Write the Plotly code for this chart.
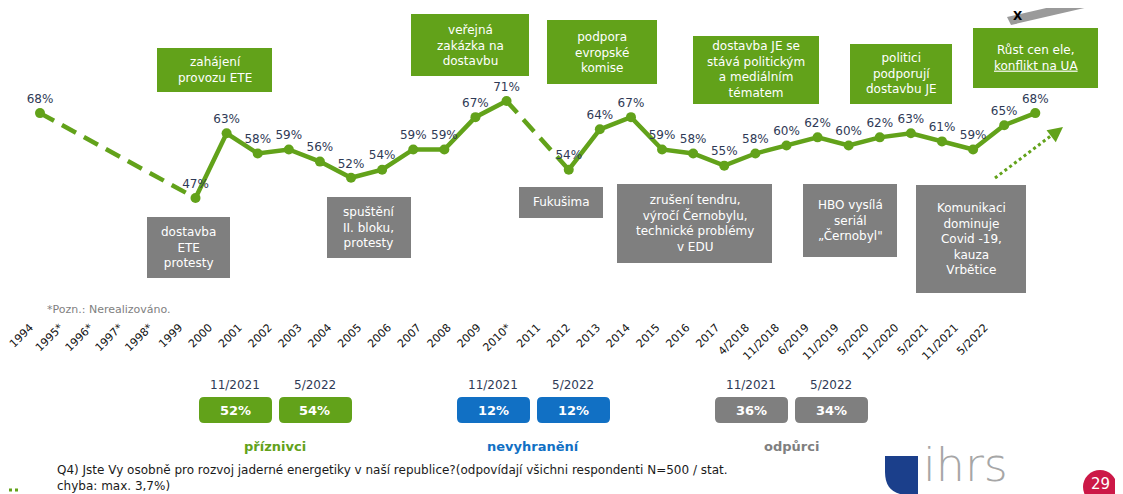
import plotly.graph_objects as go

# the page body adds an 8px margin, so the figure sits at (8, 8) in the window
OX, OY = 8, 8
W, H = 1115, 486

GREEN = "#62A21A"
GREY = "#7F7F7F"
BLUE = "#1170C4"
NAVY = "#2F3A56"
FONT = "DejaVu Sans"

# survey waves (asterisk = not carried out)
labels = ["1994", "1995*", "1996*", "1997*", "1998*", "1999", "2000", "2001", "2002",
          "2003", "2004", "2005", "2006", "2007", "2008", "2009", "2010*", "2011",
          "2012", "2013", "2014", "2015", "2016", "2017", "4/2018", "11/2018",
          "6/2019", "11/2019", "5/2020", "11/2020", "5/2021", "11/2021", "5/2022"]
values = [68, None, None, None, None, 47, 63, 58, 59, 56, 52, 54, 59, 59, 67, 71, None,
          54, 64, 67, 59, 58, 55, 58, 60, 62, 60, 62, 63, 61, 59, 65, 68]

# summary boxes
groups = ["příznivci", "nevyhranění", "odpůrci"]
wave_names = ["11/2021", "5/2022"]
wave_nov21 = [52, 12, 36]
wave_may22 = [54, 12, 34]
group_colors = [GREEN, BLUE, GREY]


def px(x):
    return (x - OX) / W


def py(y):
    return 1 - (y - OY) / H


fig = go.Figure()

# dashed bridges over the missing waves
known = [i for i, v in enumerate(values) if v is not None]
for a, b in zip(known[:-1], known[1:]):
    if b - a > 1:
        fig.add_trace(go.Scatter(
            x=[labels[a], labels[b]], y=[values[a], values[b]],
            mode="lines", line=dict(color=GREEN, width=4.5, dash="16px,9px"),
            hoverinfo="skip", showlegend=False,
        ))

fig.add_trace(go.Scatter(
    x=labels, y=values, mode="lines+markers+text",
    line=dict(color=GREEN, width=4.5), marker=dict(color=GREEN, size=10),
    text=[f"{v}%" if v is not None else "" for v in values],
    textposition="top center",
    textfont=dict(family=FONT, size=12, color=NAVY),
    connectgaps=False, showlegend=False,
))

# carrier for the rotated tick labels (separate axis, slightly different spacing)
fig.add_trace(go.Scatter(
    x=labels, y=values, xaxis="x2", mode="markers",
    marker=dict(opacity=0), hoverinfo="skip", showlegend=False,
))

shapes = []
annotations = []


def box(x0, y0, x1, y1, text, fill, size=12):
    shapes.append(dict(type="rect", xref="paper", yref="paper",
                       x0=px(x0), x1=px(x1), y0=py(y1), y1=py(y0),
                       fillcolor=fill, line=dict(width=0), layer="below"))
    annotations.append(dict(xref="paper", yref="paper", x=px((x0 + x1) / 2),
                            y=py((y0 + y1) / 2), text=text, showarrow=False,
                            font=dict(family=FONT, size=size, color="white"),
                            xanchor="center", yanchor="middle"))


def rbox(x0, y0, x1, y1, fill, r=5):
    rx, ry = r / W, r / H
    a, b, c, d = px(x0), px(x1), py(y1), py(y0)
    path = (f"M {a + rx},{c} L {b - rx},{c} Q {b},{c} {b},{c + ry} "
            f"L {b},{d - ry} Q {b},{d} {b - rx},{d} L {a + rx},{d} "
            f"Q {a},{d} {a},{d - ry} L {a},{c + ry} Q {a},{c} {a + rx},{c} Z")
    shapes.append(dict(type="path", xref="paper", yref="paper", path=path,
                       fillcolor=fill, line=dict(width=0)))


def text(x, y, t, size=12, color=NAVY, anchor="center", bold=False):
    annotations.append(dict(xref="paper", yref="paper", x=px(x), y=py(y),
                            text=f"<b>{t}</b>" if bold else t, showarrow=False,
                            font=dict(family=FONT, size=size, color=color),
                            xanchor=anchor, yanchor="middle"))


# event boxes above the line
box(157, 48, 272, 92, "zahájení<br>provozu ETE", GREEN)
box(411, 14, 529, 76, "veřejná<br>zakázka na<br>dostavbu", GREEN)
box(547, 20, 657, 84, "podpora<br>evropské<br>komise", GREEN)
box(693, 36, 819, 104, "dostavba JE se<br>stává politickým<br>a mediálním<br>tématem", GREEN)
box(850, 44, 952, 104, "politici<br>podporují<br>dostavbu JE", GREEN)
box(973, 28, 1098, 88, "Růst cen ele,<br><u>konflikt na UA</u>", GREEN)

# event boxes below the line
box(147, 217, 230, 278, "dostavba<br>ETE<br>protesty", GREY)
box(327, 197, 411, 258, "spuštění<br>II. bloku,<br>protesty", GREY)
box(519, 187, 603, 218, "Fukušima", GREY)
box(617, 184, 772, 263, "zrušení tendru,<br>výročí Černobylu,<br>technické problémy<br>v EDU", GREY)
box(803, 184, 897, 257, "HBO vysílá<br>seriál<br>„Černobyl\"", GREY)
box(916, 185, 1026, 293, "Komunikaci<br>dominuje<br>Covid -19,<br>kauza<br>Vrbětice", GREY)

# dotted trend arrow
shapes.append(dict(type="line", xref="paper", yref="paper",
                   x0=px(995), y0=py(178), x1=px(1056), y1=py(132),
                   line=dict(color=GREEN, width=3, dash="dot")))
annotations.append(dict(xref="paper", yref="paper", x=px(1063), y=py(127),
                        ax=-9, ay=7, text="", showarrow=True, arrowhead=2,
                        arrowsize=1.2, arrowwidth=2.5, arrowcolor=GREEN))

text(45, 309, "*Pozn.: Nerealizováno.", size=11, color=GREY, anchor="left")

# summary boxes
centers = [275, 533, 791]
for g, c, col, a, b in zip(groups, centers, group_colors, wave_nov21, wave_may22):
    for k, (wave, val) in enumerate(zip(wave_names, [a, b])):
        x0 = c - 76 + k * 80
        rbox(x0, 397, x0 + 73, 423, col)
        text(x0 + 36, 385, wave, size=12)
        text(x0 + 36, 410, f"{val}%", size=13, color="white", bold=True)
    text(c, 446, g, size=13, color=col, bold=True)

text(55, 470, "Q4) Jste Vy osobně pro rozvoj jaderné energetiky v naší republice?"
     "(odpovídají všichni respondenti N=500 / stat.", size=12, color="#1A1A1A", anchor="left")
text(55, 486, "chyba: max. 3,7%)", size=12, color="#1A1A1A", anchor="left")

# footer decorations
shapes.append(dict(type="line", xref="paper", yref="paper", x0=px(9), x1=px(20),
                   y0=py(490), y1=py(490), line=dict(color=GREEN, width=3, dash="dot")))
shapes.append(dict(type="path", xref="paper", yref="paper",
                   path=f"M {px(885)},{py(456)} L {px(918)},{py(456)} L {px(918)},{py(494)} "
                        f"L {px(900)},{py(494)} Q {px(885)},{py(490)} {px(885)},{py(472)} Z",
                   fillcolor="#1B3F8B", line=dict(width=0)))
annotations.append(dict(xref="paper", yref="paper", x=px(921), y=0, text="ihrs",
                        showarrow=False, xanchor="left", yanchor="bottom",
                        font=dict(family="DejaVu Sans", size=46, color="#A6A6A6", weight=200)))
shapes.append(dict(type="circle", xref="paper", yref="paper",
                   x0=px(1083), x1=px(1117), y0=py(504), y1=py(470),
                   fillcolor="#CC1847", line=dict(width=0)))
text(1100, 484, "29", size=15, color="white")

# top-right partial graphic
shapes.append(dict(type="path", xref="paper", yref="paper",
                   path=f"M {px(1007)},{py(17)} L {px(1011)},{py(25)} L {px(1106)},{py(3)} "
                        f"L {px(1103)},{py(-5)} Z",
                   fillcolor="#9A9A9A", line=dict(width=0)))
text(1018, 16, "X", size=12, color="black", bold=True)

fig.update_layout(
    width=W, height=H,
    margin=dict(l=0, r=0, t=0, b=0),
    paper_bgcolor="white", plot_bgcolor="white",
    xaxis=dict(type="category", categoryarray=labels, range=[-1.029, 34.82],
               visible=False),
    xaxis2=dict(type="category", categoryarray=labels, range=[-0.737, 36.63],
                overlaying="x", anchor="free", position=py(318), side="bottom",
                showgrid=False, showline=False, zeroline=False, ticks="",
                tickangle=-45, tickfont=dict(family=FONT, size=11, color="#111111")),
    yaxis=dict(range=[-26.28, 94.02], visible=False),
    shapes=shapes,
    annotations=annotations,
)

fig.write_html("out.html")
